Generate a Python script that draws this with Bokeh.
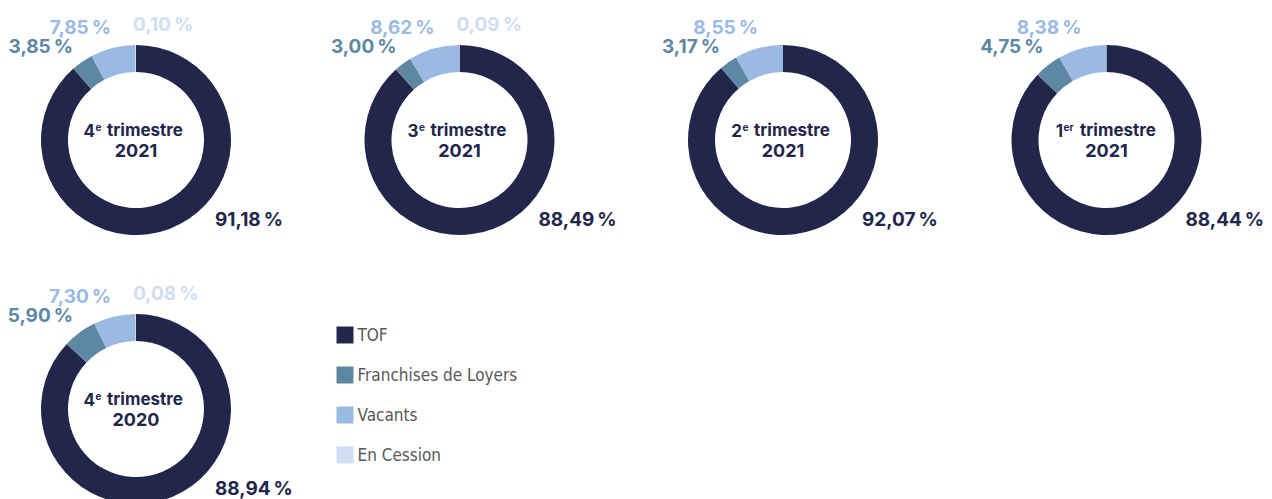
import math
from bokeh.plotting import figure
from bokeh.models import Range1d
from bokeh.core.properties import value
from bokeh.embed import file_html
from bokeh.resources import INLINE

# ---------------- data ----------------
quarters = ["4", "3", "2", "1", "4"]
suffixes = ["e", "e", "e", "er", "e"]
years = ["2021", "2021", "2021", "2021", "2020"]
series = ["TOF", "Franchises de Loyers", "Vacants", "En Cession"]
tof = [91.18, 88.49, 92.07, 88.44, 88.94]
franchises = [3.85, 3.00, 3.17, 4.75, 5.90]
vacants = [7.85, 8.62, 8.55, 8.38, 7.30]
en_cession = [0.10, 0.09, None, None, 0.08]

colors = ["#22264b", "#5e87a2", "#9abae2", "#cfdef2"]
legend_text_color = "#58595b"

# ---------------- layout ----------------
W, H = 1272, 499


def Y(py):
    return H - py


p = figure(width=W, height=H, output_backend="svg", toolbar_location=None,
           x_range=Range1d(0, W), y_range=Range1d(0, H),
           min_border=0, outline_line_color=None)
p.axis.visible = False
p.grid.visible = False
p.background_fill_color = "white"
p.border_fill_color = "white"

R_OUT, R_IN = 95, 68
centers = [(135.5 + i * 323.5, 139.5) for i in range(4)] + [(135.5, 408.5)]

label_font = value("Inter")
LBL = "19px"


def fmt(v):
    return f"{v:.2f}".replace(".", ",") + "\u202f%"


for k in range(len(tof)):
    cx, cy = centers[k]
    vals = [tof[k], franchises[k], vacants[k], en_cession[k] or 0.0]
    total = sum(vals)
    cum = 0.0
    xs, ys, a0s, a1s, cs = [], [], [], [], []
    for v, c in zip(vals, colors):
        if v <= 0:
            continue
        start = math.pi / 2 - cum / total * 2 * math.pi
        cum += v
        end = math.pi / 2 - cum / total * 2 * math.pi
        xs.append(cx); ys.append(Y(cy)); a0s.append(start); a1s.append(end); cs.append(c)
    p.annular_wedge(x=xs, y=ys, inner_radius=R_IN, outer_radius=R_OUT,
                    inner_radius_units="screen", outer_radius_units="screen",
                    start_angle=a0s, end_angle=a1s, direction="clock",
                    fill_color=cs, line_color=None)

    # value labels
    p.text(x=[cx + 79], y=[Y(cy + 79)], text=[fmt(tof[k])], text_align="left",
           text_baseline="middle", text_font=label_font, text_font_style="bold",
           text_font_size=LBL, text_color=colors[0])
    p.text(x=[cx - 63], y=[Y(cy - 94)], text=[fmt(franchises[k])], text_align="right",
           text_baseline="middle", text_font=label_font, text_font_style="bold",
           text_font_size=LBL, text_color=colors[1])
    p.text(x=[cx - 25], y=[Y(cy - 113)], text=[fmt(vacants[k])], text_align="right",
           text_baseline="middle", text_font=label_font, text_font_style="bold",
           text_font_size=LBL, text_color=colors[2])
    if en_cession[k] is not None:
        p.text(x=[cx - 3], y=[Y(cy - 116)], text=[fmt(en_cession[k])], text_align="left",
               text_baseline="middle", text_font=label_font, text_font_style="bold",
               text_font_size=LBL, text_color=colors[3])

    # centre text
    num_w, sup_w, gap, tri_w = 10, 5 * len(suffixes[k]) + 1, 6, 80
    total_w = num_w + sup_w + gap + tri_w
    tri_left = cx - total_w / 2 + num_w + sup_w + gap
    num_right = tri_left - gap - sup_w
    p.text(x=[num_right], y=[Y(cy - 10)], text=[quarters[k]], text_align="right",
           text_baseline="middle", text_font=label_font, text_font_style="bold",
           text_font_size="17px", text_color=colors[0])
    p.text(x=[num_right + 0.5], y=[Y(cy - 13)], text=[suffixes[k]], text_align="left",
           text_baseline="middle", text_font=label_font, text_font_style="bold",
           text_font_size="10px", text_color=colors[0])
    p.text(x=[tri_left], y=[Y(cy - 10)], text=["trimestre"], text_align="left",
           text_baseline="middle", text_font=label_font, text_font_style="bold",
           text_font_size="17px", text_color=colors[0])
    p.text(x=[cx], y=[Y(cy + 10)], text=[years[k]], text_align="center",
           text_baseline="middle", text_font=label_font, text_font_style="bold",
           text_font_size="18px", text_color=colors[0])

# ---------------- legend ----------------
leg_x, leg_y0, leg_dy = 344.5, 334.5, 40
p.rect(x=[leg_x] * 4, y=[Y(leg_y0 + i * leg_dy) for i in range(4)], width=17, height=17,
       fill_color=colors, line_color=None)
p.text(x=[leg_x + 12.5] * 4, y=[Y(leg_y0 + i * leg_dy) for i in range(4)], text=series,
       text_align="left", text_baseline="middle", text_font=value("DejaVu Sans Condensed"),
       text_font_size="17px", text_color=legend_text_color)

open("out.html", "w").write(file_html(p, INLINE))
